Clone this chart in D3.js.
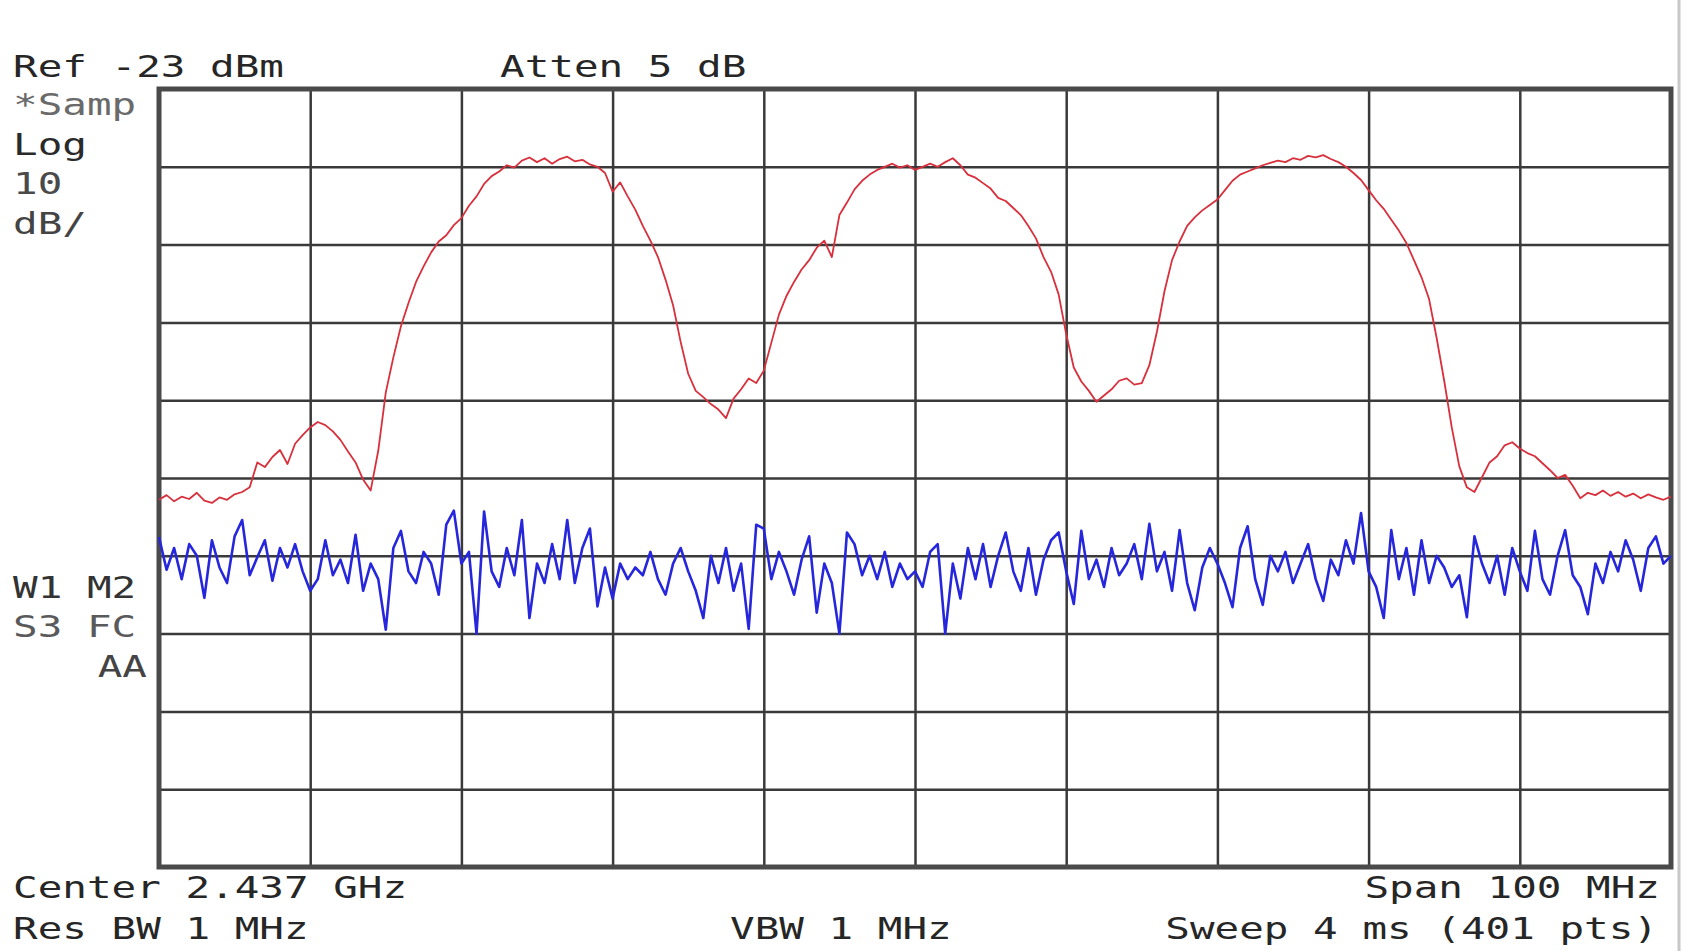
<!DOCTYPE html>
<html>
<head>
<meta charset="utf-8">
<script src="https://cdn.jsdelivr.net/npm/d3@7"></script>
<style>
  html, body { margin: 0; padding: 0; background: #fff; }
  svg { display: block; }
  .txt { font-family: "DejaVu Sans Mono", monospace; font-size: 31px; fill: #262626; }
  .grid line { stroke: #3a3a3a; stroke-width: 2.5; }
  .grid path { display: none; }
</style>
</head>
<body>
<div id="graf"></div>
<script>
// Barrido del analizador: centro 2.437 GHz, span 100 MHz
const frecInicio = 2387
const frecFin = 2487
const frecPaso = 0.5

// lineas de la reticula (MHz y dBm)
const frecTicks = [2387, 2397, 2407, 2417, 2427, 2437, 2447, 2457, 2467, 2477, 2487]
const nivelTicks = [-23, -33, -43, -53, -63, -73, -83, -93, -103, -113, -123]

// traza roja (dBm), un punto cada 0.5 MHz
const trazaRoja = [
  -75.8, -75.2, -76.0, -75.4, -75.7, -74.9, -75.9, -76.2, -75.5, -75.8, -75.1, -74.8, -74.2, -71.0, -71.6, -70.3, -69.4, -71.2, -68.6, -67.5,
  -66.5, -65.8, -66.2, -67.0, -68.1, -69.6, -71.0, -73.2, -74.6, -69.5, -62.0, -57.5, -53.5, -50.5, -47.8, -45.8, -44.0, -42.6, -41.8, -40.5,
  -39.6, -38.0, -36.8, -35.2, -34.2, -33.6, -32.8, -33.1, -32.2, -31.8, -32.4, -31.9, -32.6, -32.0, -31.7, -32.3, -32.1, -32.7, -33.0, -33.8,
  -36.2, -35.0, -36.8, -38.5, -40.6, -42.5, -44.6, -47.5, -50.8, -55.5, -59.6, -61.8, -62.6, -63.5, -64.2, -65.3, -62.8, -61.6, -60.2, -60.8,
  -59.2, -55.6, -52.0, -49.6, -47.8, -46.2, -45.0, -43.4, -42.5, -44.6, -39.2, -37.6, -35.9, -34.8, -34.0, -33.4, -33.0, -32.6, -33.1, -32.8,
  -33.4, -33.0, -32.6, -33.0, -32.4, -31.9, -32.8, -34.0, -34.4, -35.1, -35.8, -37.0, -37.4, -38.3, -39.2, -40.6, -42.2, -44.6, -46.5, -49.4,
  -54.5, -58.8, -60.6, -61.8, -63.2, -62.4, -61.6, -60.5, -60.2, -61.0, -60.8, -58.5, -54.2, -49.0, -45.0, -42.6, -40.6, -39.5, -38.6, -37.9,
  -37.2, -36.0, -34.8, -34.0, -33.6, -33.2, -32.8, -32.5, -32.2, -32.4, -31.9, -32.1, -31.6, -31.8, -31.5, -32.0, -32.4, -33.0, -33.8, -34.7,
  -36.0, -37.3, -38.4, -39.8, -41.2, -42.8, -45.0, -47.2, -50.0, -55.0, -60.5, -66.5, -71.5, -74.2, -74.8, -72.9, -71.0, -70.2, -68.8, -68.4,
  -69.2, -69.8, -70.2, -71.1, -72.0, -73.0, -72.6, -74.0, -75.6, -74.9, -75.2, -74.6, -75.3, -74.8, -75.4, -75.0, -75.6, -75.1, -75.5, -75.8, -75.4
]

// traza azul (dBm), ruido de fondo, un punto cada 0.5 MHz
const trazaAzul = [
  -80.6, -84.8, -82.0, -86.0, -81.5, -83.0, -88.4, -81.0, -84.5, -86.5, -80.5, -78.4, -85.5, -83.2, -81.0, -86.2, -82.0, -84.5, -81.5, -85.0,
  -87.5, -86.0, -81.0, -85.5, -83.5, -86.5, -80.3, -87.5, -84.0, -86.0, -92.5, -82.0, -79.8, -85.0, -86.5, -82.5, -84.0, -88.0, -79.0, -77.2,
  -84.0, -82.5, -93.0, -77.3, -85.0, -87.0, -82.0, -85.5, -78.4, -91.0, -84.0, -86.5, -81.5, -86.0, -78.4, -86.5, -82.0, -79.5, -89.5, -84.5,
  -88.5, -84.0, -86.0, -84.5, -85.5, -82.5, -86.0, -88.0, -84.0, -82.0, -85.0, -87.5, -91.0, -83.0, -86.5, -82.0, -87.5, -84.0, -92.4, -79.0,
  -79.5, -86.0, -82.5, -85.0, -88.0, -83.5, -80.5, -90.3, -84.0, -86.5, -93.0, -80.0, -81.5, -85.5, -83.0, -86.0, -82.5, -87.0, -84.0, -86.0,
  -85.0, -87.0, -82.5, -81.5, -93.0, -84.0, -88.5, -82.0, -86.0, -81.5, -87.0, -83.0, -80.0, -85.0, -87.5, -82.0, -88.0, -83.5, -81.0, -80.0,
  -85.0, -89.2, -79.8, -86.0, -83.5, -87.0, -82.0, -85.5, -84.0, -81.5, -86.0, -78.9, -85.0, -82.5, -87.5, -79.7, -86.5, -90.0, -84.5, -82.0,
  -84.0, -86.5, -89.6, -82.0, -79.2, -86.0, -89.3, -83.0, -85.0, -82.5, -86.5, -84.0, -81.5, -86.0, -88.8, -83.5, -85.5, -81.0, -84.0, -77.5,
  -85.0, -87.0, -91.0, -79.7, -86.0, -82.0, -88.0, -81.0, -86.5, -83.0, -84.5, -87.0, -85.5, -90.9, -80.5, -84.0, -86.5, -83.0, -88.0, -82.0,
  -85.0, -87.5, -79.8, -86.0, -88.0, -83.0, -79.7, -85.5, -87.0, -90.5, -84.0, -86.5, -82.5, -85.0, -81.0, -83.5, -87.5, -82.0, -80.5, -84.0, -83.0
]

// textos de la pantalla
const textoRef = "Ref -23 dBm"
const textoAtten = "Atten 5 dB"
const textosIzq = ["*Samp", "Log", "10", "dB/"]
const textosModo = ["W1 M2", "S3 FC", "AA"]
const textoCenter = "Center 2.437 GHz"
const textoSpan = "Span 100 MHz"
const textoRbw = "Res BW 1 MHz"
const textoVbw = "VBW 1 MHz"
const textoSweep = "Sweep 4 ms (401 pts)"

const graf = d3.select("#graf")

const anchoTotal = 1683
const altoTotal = 951
const margins = { top: 89, right: 12, bottom: 84, left: 159 }
const ancho = anchoTotal - margins.left - margins.right
const alto = altoTotal - margins.top - margins.bottom

const svg = graf
  .append("svg")
  .attr("width", anchoTotal)
  .attr("height", altoTotal)

svg.append("rect")
  .attr("width", anchoTotal)
  .attr("height", altoTotal)
  .attr("fill", "#fff")

// franja gris del borde derecho de la captura
svg.append("line")
  .attr("x1", 1679).attr("x2", 1679)
  .attr("y1", 0).attr("y2", altoTotal)
  .attr("stroke", "#c8c8c8")
  .attr("stroke-width", 3)

const g = svg
  .append("g")
  .attr("transform", `translate(${margins.left}, ${margins.top})`)

// Escaladores
const x = d3.scaleLinear().domain([frecInicio, frecFin]).range([0, ancho])
const y = d3.scaleLinear().domain([-123, -23]).range([alto, 0])

// reticula
g.append("g")
  .attr("class", "grid")
  .attr("transform", `translate(0, ${alto})`)
  .call(d3.axisBottom(x).tickValues(frecTicks).tickSize(-alto).tickFormat(""))
g.append("g")
  .attr("class", "grid")
  .call(d3.axisLeft(y).tickValues(nivelTicks).tickSize(-ancho).tickFormat(""))

// marco
g.append("rect")
  .attr("x", 0)
  .attr("y", 0)
  .attr("width", ancho)
  .attr("height", alto)
  .attr("fill", "none")
  .attr("stroke", "#4a4a4a")
  .attr("stroke-width", 5)

const linea = d3.line()
  .x((d, i) => x(frecInicio + i * frecPaso))
  .y((d) => y(d))

g.append("path")
  .datum(trazaRoja)
  .attr("d", linea)
  .attr("fill", "none")
  .attr("stroke", "#d8303c")
  .attr("stroke-width", 1.8)
  .attr("stroke-linejoin", "round")

g.append("path")
  .datum(trazaAzul)
  .attr("d", linea)
  .attr("fill", "none")
  .attr("stroke", "#2626dc")
  .attr("stroke-width", 2.6)
  .attr("stroke-linejoin", "round")

// texto con fuente ensanchada (como la fuente de pantalla del equipo)
const texto = (str, px, py, anchor = "start", color = "#262626") => {
  svg.append("text")
    .attr("class", "txt")
    .attr("transform", `translate(${px}, ${py}) scale(1.32, 1)`)
    .attr("text-anchor", anchor)
    .style("fill", color)
    .text(str)
}

texto(textoRef, 13, 77)
texto(textoAtten, 500, 77)
const coloresIzq = ["#6a6a6a", "#2a2a2a", "#4a4a4a", "#444"]
textosIzq.forEach((t, i) => texto(t, 13, 115 + i * 39.7, "start", coloresIzq[i]))
texto(textosModo[0], 13, 598, "start", "#333")
texto(textosModo[1], 13, 637, "start", "#5a5a5a")
texto(textosModo[2], 147, 677, "end", "#444")
texto(textoCenter, 13, 898)
texto(textoSpan, 1660, 898, "end")
texto(textoRbw, 13, 939)
texto(textoVbw, 730, 939)
texto(textoSweep, 1658, 939, "end")
</script>
</body>
</html>
